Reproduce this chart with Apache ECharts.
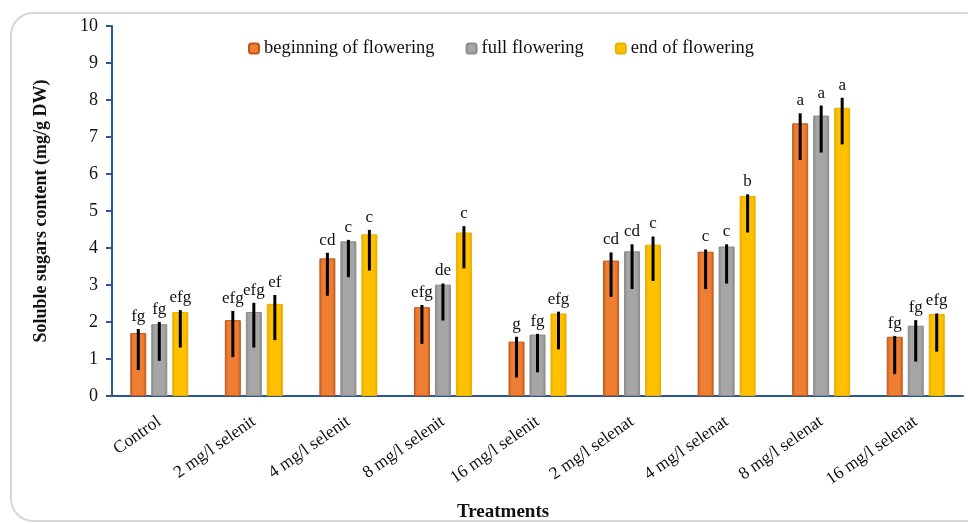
<!DOCTYPE html>
<html>
<head>
<meta charset="utf-8">
<script src="https://cdn.jsdelivr.net/npm/echarts@6/dist/echarts.min.js"></script>
<style>
  html, body { margin: 0; padding: 0; background: #fff; }
  #chart { width: 968px; height: 524px; }
</style>
</head>
<body>
<div id="chart"></div>
<script>
// Treatments on the category axis
const categories = ['Control', '2 mg/l selenit', '4 mg/l selenit', '8 mg/l selenit', '16 mg/l selenit',
  '2 mg/l selenat', '4 mg/l selenat', '8 mg/l selenat', '16 mg/l selenat'];
const stageNames = ['beginning of flowering', 'full flowering', 'end of flowering'];

// Mean soluble sugar content (mg/g DW)
const beginning = [1.70, 2.05, 3.72, 2.40, 1.47, 3.66, 3.90, 7.37, 1.60];
const full      = [1.94, 2.27, 4.18, 3.01, 1.66, 3.91, 4.04, 7.58, 1.90];
const ending    = [2.27, 2.49, 4.37, 4.42, 2.23, 4.09, 5.41, 7.79, 2.22];

// Error bar ends (upper / lower)
const beginningHi = [1.81, 2.30, 3.87, 2.46, 1.60, 3.88, 3.96, 7.64, 1.62];
const beginningLo = [0.70, 1.05, 2.71, 1.41, 0.50, 2.68, 2.89, 6.38, 0.59];
const fullHi      = [2.00, 2.52, 4.22, 3.04, 1.68, 4.10, 4.10, 7.85, 2.05];
const fullLo      = [0.95, 1.31, 3.21, 2.04, 0.64, 2.89, 3.04, 6.58, 0.93];
const endingHi    = [2.32, 2.73, 4.49, 4.59, 2.28, 4.31, 5.45, 8.06, 2.23];
const endingLo    = [1.31, 1.51, 3.39, 3.45, 1.26, 3.11, 4.42, 6.80, 1.20];

// Significance letters
const beginningLetters = ['fg', 'efg', 'cd', 'efg', 'g', 'cd', 'c', 'a', 'fg'];
const fullLetters      = ['fg', 'efg', 'c', 'de', 'fg', 'cd', 'c', 'a', 'fg'];
const endingLetters    = ['efg', 'ef', 'c', 'c', 'efg', 'c', 'b', 'a', 'efg'];

// Y axis ticks
const yMin = 0, yMax = 10, yStep = 1;

const SERIF = "'Liberation Serif', 'Times New Roman', serif";
const AXIS_BLUE = '#2b5797';
const BAR_W = 16;
const BAR_GAP = 5;

function shade(edge, mid) {
  return new echarts.graphic.LinearGradient(0, 0, 1, 0, [
    { offset: 0, color: edge },
    { offset: 0.2, color: mid },
    { offset: 0.8, color: mid },
    { offset: 1, color: edge }
  ]);
}

const fills = [
  shade('#c45a18', '#ee7e34'),
  shade('#858585', '#a6a6a6'),
  shade('#e3a900', '#ffc000')
];
const edges = ['#c0581a', '#8c8c8c', '#e8b000'];

const stageValues = [beginning, full, ending];
const stageHi = [beginningHi, fullHi, endingHi];
const stageLo = [beginningLo, fullLo, endingLo];
const stageLetters = [beginningLetters, fullLetters, endingLetters];

const barSeries = stageValues.map((vals, i) => ({
  name: stageNames[i],
  type: 'bar',
  data: vals,
  barWidth: BAR_W,
  barGap: (BAR_GAP / BAR_W * 100) + '%',
  itemStyle: { color: fills[i], borderColor: edges[i], borderWidth: 1 },
  z: 2
}));

// Error bars plus significance letters, centred on each bar
const errorSeries = stageValues.map((vals, i) => ({
  type: 'custom',
  name: 'err' + i,
  z: 5,
  silent: true,
  data: vals.map((v, k) => [k, stageHi[i][k], stageLo[i][k]]),
  renderItem: function (params, api) {
    const k = api.value(0);
    const offset = (i - 1) * (BAR_W + BAR_GAP);
    const x = api.coord([k, 0])[0] + offset;
    const yHi = api.coord([k, api.value(1)])[1];
    const yLo = api.coord([k, api.value(2)])[1];
    return {
      type: 'group',
      children: [
        {
          type: 'line',
          shape: { x1: x, y1: yHi, x2: x, y2: yLo },
          style: { stroke: '#000', lineWidth: 3 }
        },
        {
          type: 'text',
          style: {
            text: stageLetters[i][k], x: x, y: yHi - 4,
            align: 'center', verticalAlign: 'bottom',
            font: '17px ' + SERIF, fill: '#111'
          }
        }
      ]
    };
  }
}));

const chart = echarts.init(document.getElementById('chart'), null, { renderer: 'canvas' });
chart.setOption({
  animation: false,
  backgroundColor: '#fff',
  legend: {
    data: stageNames,
    left: 243,
    top: 34,
    itemWidth: 10,
    itemHeight: 10,
    itemGap: 31,
    textStyle: { fontFamily: SERIF, fontSize: 18.5, color: '#111' }
  },
  grid: { left: 112, right: 5, top: 26, bottom: 128, containLabel: false },
  xAxis: {
    type: 'category',
    data: categories,
    axisLine: { lineStyle: { color: AXIS_BLUE, width: 2 } },
    axisTick: { length: 6, lineStyle: { color: AXIS_BLUE, width: 2 } },
    axisLabel: {
      rotate: 35, margin: 24, interval: 0,
      fontFamily: SERIF, fontSize: 17.5, color: '#111'
    }
  },
  yAxis: {
    type: 'value',
    min: yMin, max: yMax, interval: yStep,
    name: 'Soluble sugars content (mg/g DW)',
    nameLocation: 'middle',
    nameGap: 62,
    nameTextStyle: { fontFamily: SERIF, fontWeight: 'bold', fontSize: 18, color: '#111' },
    axisLine: { show: true, lineStyle: { color: AXIS_BLUE, width: 2 } },
    axisTick: { show: true, length: 6, lineStyle: { color: AXIS_BLUE, width: 2 } },
    splitLine: { show: false },
    axisLabel: { margin: 14, fontFamily: SERIF, fontSize: 18, color: '#111' }
  },
  graphic: [
    {
      type: 'rect',
      silent: true,
      z: -10,
      shape: { x: 11, y: 13, width: 975, height: 508, r: 22 },
      style: { fill: 'none', stroke: '#d6d6d6', lineWidth: 2 }
    },
    {
      type: 'text',
      left: 457,
      top: 503,
      style: { text: 'Treatments', font: 'bold 19px ' + SERIF, fill: '#111' }
    }
  ],
  series: barSeries.concat(errorSeries)
});
</script>
</body>
</html>
